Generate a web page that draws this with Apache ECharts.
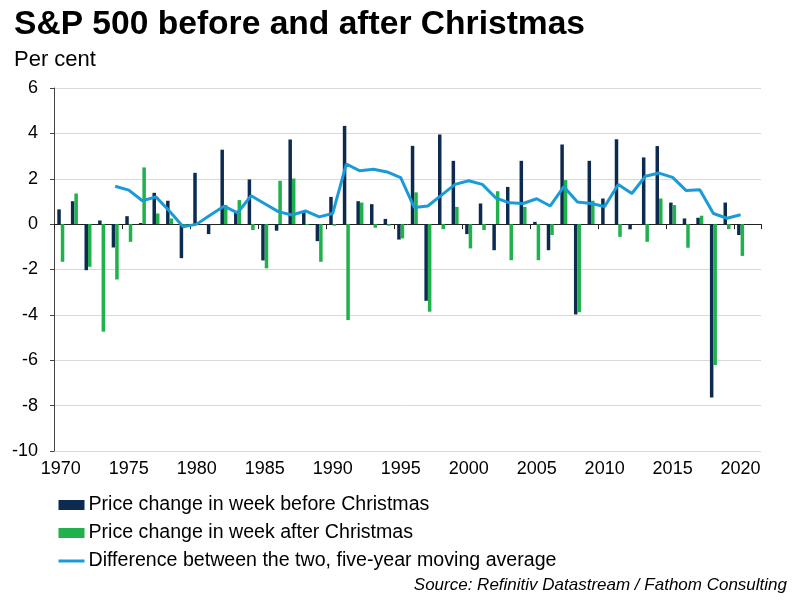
<!DOCTYPE html>
<html>
<head>
<meta charset="utf-8">
<script src="https://cdn.jsdelivr.net/npm/echarts@6/dist/echarts.min.js"></script>
<style>html,body{margin:0;padding:0;background:#fff}#c{width:800px;height:600px}</style>
</head>
<body>
<div id="c"></div>
<script>
const years = [];
for (let y = 1970; y <= 2021; y++) years.push(String(y));

const beforeXmas = [0.65, 1.01, -2.03, 0.16, -1.03, 0.35, 0.05, 1.38, 1.03, -1.50,
  2.26, -0.44, 3.28, 0.54, 1.97, -1.60, -0.29, 3.73, 0.54, -0.75,
  1.20, 4.33, 1.01, 0.88, 0.23, -0.68, 3.45, -3.38, 3.95, 2.79,
  -0.44, 0.91, -1.15, 1.64, 2.79, 0.10, -1.15, 3.51, -3.98, 2.79,
  1.13, 3.74, -0.23, 2.94, 3.44, 0.95, 0.25, 0.28, -7.64, 0.95,
  -0.48, null];

const afterXmas = [-1.66, 1.35, -1.88, -4.74, -2.44, -0.78, 2.50, 0.47, 0.25, -0.10,
  0.00, 0.00, 0.84, 1.06, -0.26, -1.95, 1.91, 2.01, -0.04, -1.66,
  -0.07, -4.23, 0.95, -0.16, -0.07, -0.63, 1.40, -3.86, -0.22, 0.76,
  -1.07, -0.26, 1.45, -1.59, 0.76, -1.59, -0.48, 1.94, -3.88, 1.03,
  0.00, -0.56, 0.00, -0.78, 1.13, 0.84, -1.04, 0.37, -6.21, -0.22,
  -1.40, null];

const diffMA = [null, null, null, null, 1.67, 1.50, 1.03, 1.20, 0.57, -0.12,
  0.00, 0.40, 0.79, 0.50, 1.25, 0.90, 0.55, 0.40, 0.58, 0.32,
  0.47, 2.65, 2.35, 2.42, 2.30, 2.05, 0.73, 0.80, 1.28, 1.75,
  1.91, 1.75, 1.15, 0.94, 0.91, 1.12, 0.80, 1.65, 0.98, 0.91,
  0.78, 1.75, 1.35, 2.11, 2.25, 2.06, 1.48, 1.52, 0.47, 0.26,
  0.41, null];

const yTicks = { min: -10, max: 6, interval: 2 };

const FONT = '"Liberation Sans", Arial, sans-serif';
const chart = echarts.init(document.getElementById('c'), null, { renderer: 'canvas' });
chart.setOption({
  animation: false,
  backgroundColor: '#fff',
  textStyle: { fontFamily: FONT },
  title: [
    { text: 'S&P 500 before and after Christmas', left: 9, top: 3,
      textStyle: { fontSize: 33.6, fontWeight: 'bold', color: '#000', fontFamily: FONT } },
    { text: 'Per cent', left: 9, top: 44,
      textStyle: { fontSize: 22, fontWeight: 'normal', color: '#000', fontFamily: FONT } },
    { text: 'Source: Refinitiv Datastream / Fathom Consulting', right: 8, top: 572,
      textStyle: { fontSize: 17, fontWeight: 'normal', fontStyle: 'italic', color: '#000', fontFamily: FONT } }
  ],
  legend: {
    orient: 'vertical', left: 52, top: 490, itemWidth: 26, itemHeight: 10, itemGap: 8,
    textStyle: { fontSize: 19.6, color: '#000', fontFamily: FONT, lineHeight: 20, padding: [0, 0, 0, -1] },
    data: [
      { name: 'Price change in week before Christmas', icon: 'rect' },
      { name: 'Price change in week after Christmas', icon: 'rect' },
      { name: 'Difference between the two, five-year moving average',
        itemStyle: { opacity: 0 }, lineStyle: { width: 3, color: '#1a9bd7' } }
    ]
  },
  grid: { left: 54, right: 39, top: 88, bottom: 149, containLabel: false },
  xAxis: [
    { type: 'category', data: years, boundaryGap: true,
      axisLine: { onZero: true, lineStyle: { color: '#222', width: 1 } },
      axisTick: { show: true, interval: 4, length: 5, lineStyle: { color: '#222' } },
      axisLabel: { show: false }, splitLine: { show: false } },
    { type: 'category', data: years, boundaryGap: true, position: 'bottom',
      axisLine: { show: false, onZero: false }, axisTick: { show: false },
      axisLabel: { interval: 4, fontSize: 18, color: '#000', margin: 9, fontFamily: FONT } }
  ],
  yAxis: {
    type: 'value', min: yTicks.min, max: yTicks.max, interval: yTicks.interval,
    axisLine: { show: true, lineStyle: { color: '#444', width: 1 } },
    axisTick: { show: true, length: 4, lineStyle: { color: '#444' } },
    axisLabel: { fontSize: 18, color: '#000', margin: 16, fontFamily: FONT },
    splitLine: { show: true, lineStyle: { color: '#d9d9d9', width: 1 } }
  },
  series: [
    { name: 'Price change in week before Christmas', type: 'bar', data: beforeXmas,
      barWidth: 3.5, barGap: '0%', itemStyle: { color: '#0d2b4e' } },
    { name: 'Price change in week after Christmas', type: 'bar', data: afterXmas,
      barWidth: 3.5, barGap: '0%', itemStyle: { color: '#1fb14c' } },
    { name: 'Difference between the two, five-year moving average', type: 'line', data: diffMA,
      symbol: 'none', smooth: false, lineStyle: { color: '#1a9bd7', width: 3 },
      itemStyle: { color: '#1a9bd7' }, z: 5 }
  ]
});
</script>
</body>
</html>
